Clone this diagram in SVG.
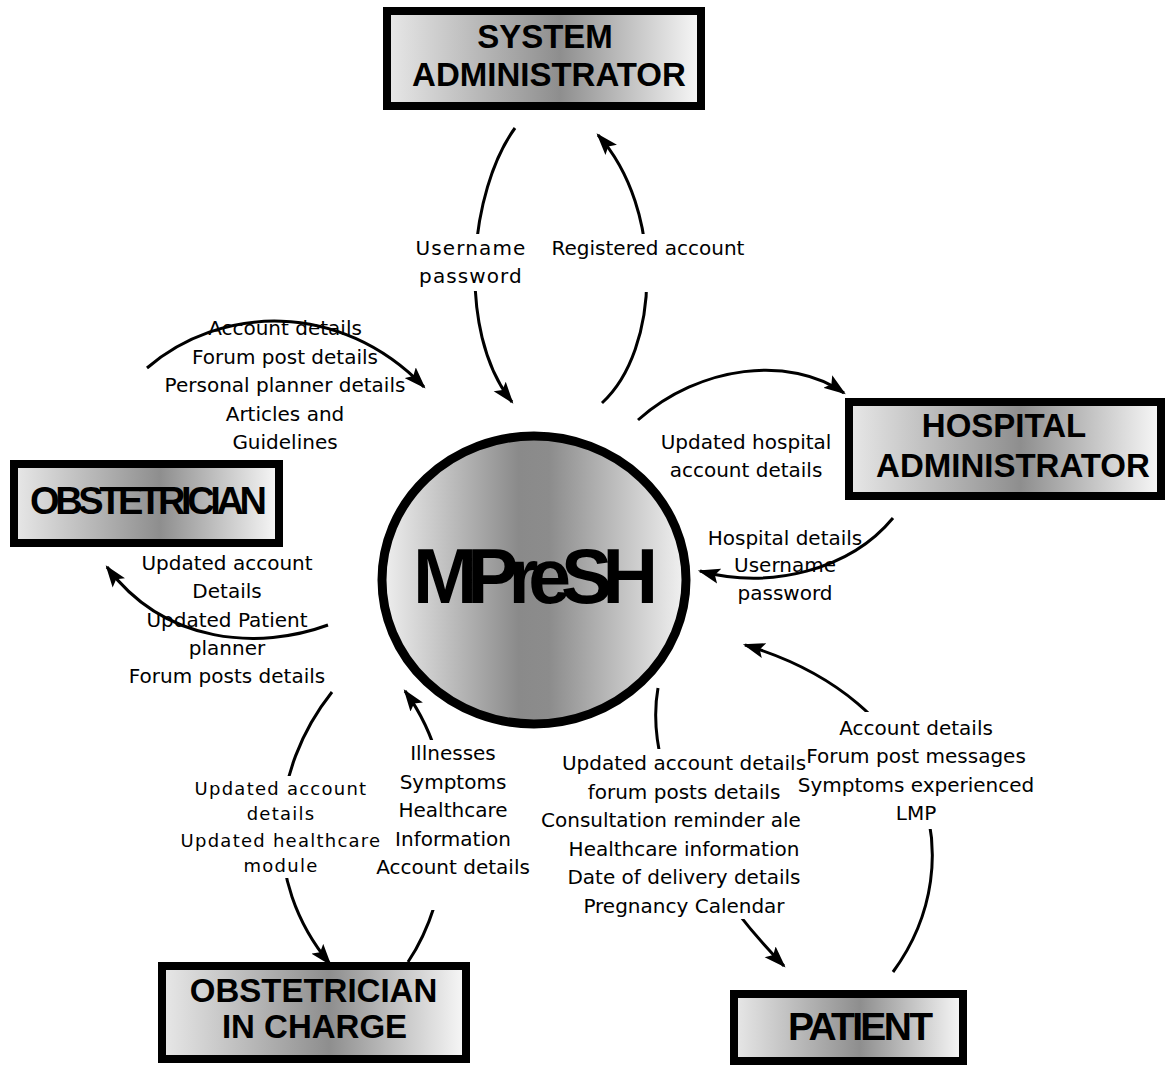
<svg xmlns="http://www.w3.org/2000/svg" width="1166" height="1066" viewBox="0 0 1166 1066">
<style>
.box{stroke:#000;stroke-width:8;fill:url(#boxGrad)}
.btxt{font-family:"Liberation Sans",Arial,sans-serif;font-weight:bold;fill:#000;text-anchor:middle}
.lbl{font-family:"DejaVu Sans",Verdana,sans-serif;font-size:20px;fill:#000;text-anchor:middle}
.wide{letter-spacing:1.1px}
.small{font-size:18px;letter-spacing:1.25px}
.conn{fill:none;stroke:#000;stroke-width:3}
.mask{fill:#fff;stroke:none}
</style>
<defs>
<linearGradient id="boxGrad" x1="0" y1="0" x2="1" y2="0">
<stop offset="0" stop-color="#e8e8e8"/>
<stop offset="0.55" stop-color="#8e8e8e"/>
<stop offset="1" stop-color="#f8f8f8"/>
</linearGradient>
<linearGradient id="circGrad" x1="0" y1="0" x2="1" y2="0">
<stop offset="0" stop-color="#f0f0f0"/>
<stop offset="0.45" stop-color="#8a8a8a"/>
<stop offset="0.55" stop-color="#8c8c8c"/>
<stop offset="1" stop-color="#f2f2f2"/>
</linearGradient>
<marker id="arr" viewBox="0 0 20 14" refX="18" refY="7" markerWidth="22" markerHeight="16" markerUnits="userSpaceOnUse" orient="auto">
<path d="M0,0 L20,7 L0,14 L4,7 z" fill="#000"/>
</marker>
</defs>
<rect width="1166" height="1066" fill="#fff"/>

<g id="connectors">
<path class="conn" marker-end="url(#arr)" d="M515,128 C470,190 455,330 512,402"/>
<path class="conn" marker-end="url(#arr)" d="M602,403 C660,350 665,210 598,135"/>
<path class="conn" marker-end="url(#arr)" d="M147,368 C220,305 340,300 424,387"/>
<path class="conn" marker-end="url(#arr)" d="M638,420 C700,365 790,355 844,393"/>
<path class="conn" marker-end="url(#arr)" d="M893,518 C850,570 770,590 700,571"/>
<path class="conn" marker-end="url(#arr)" d="M328,625 C260,650 165,645 107,567"/>
<path class="conn" marker-end="url(#arr)" d="M332,692 C270,770 260,880 330,964"/>
<path class="conn" marker-end="url(#arr)" d="M408,962 C450,900 470,780 405,691"/>
<path class="conn" marker-end="url(#arr)" d="M658,688 C645,760 690,870 784,966"/>
<path class="conn" marker-end="url(#arr)" d="M893,972 C975,860 930,700 745,645"/>
</g>

<g id="node-mpresh">
<ellipse cx="534" cy="580" rx="152" ry="144" fill="url(#circGrad)" stroke="#000" stroke-width="9"/>
<text class="btxt" x="535.5" y="603" font-size="77" textLength="245" lengthAdjust="spacing">MPreSH</text>
</g>
<g id="node-system-admin">
<rect class="box" x="387" y="11" width="314" height="95"/>
<text class="btxt" x="545" y="48" font-size="33">SYSTEM</text>
<text class="btxt" x="549" y="86" font-size="33">ADMINISTRATOR</text>
</g>
<g id="node-hospital-admin">
<rect class="box" x="849" y="402" width="312" height="94"/>
<text class="btxt" x="1004" y="437" font-size="33">HOSPITAL</text>
<text class="btxt" x="1013" y="477" font-size="33">ADMINISTRATOR</text>
</g>
<g id="node-obstetrician">
<rect class="box" x="14" y="464" width="265" height="79"/>
<text class="btxt" x="148.5" y="514" font-size="38" textLength="237" lengthAdjust="spacing">OBSTETRICIAN</text>
</g>
<g id="node-obstetrician-in-charge">
<rect class="box" x="162" y="966" width="304" height="93"/>
<text class="btxt" x="313.5" y="1002" font-size="33">OBSTETRICIAN</text>
<text class="btxt" x="314.5" y="1038" font-size="33">IN CHARGE</text>
</g>
<g id="node-patient">
<rect class="box" x="734" y="994" width="229" height="67"/>
<text class="btxt" x="860.5" y="1040" font-size="39" textLength="145" lengthAdjust="spacing">PATIENT</text>
</g>

<g id="labels">
<rect class="mask" x="440" y="234" width="60" height="57"/>
<text class="lbl wide" x="471" y="255">Username</text>
<text class="lbl wide" x="471" y="283">password</text>

<rect class="mask" x="628" y="234" width="40" height="58"/>
<text class="lbl" x="648" y="255">Registered account</text>

<text class="lbl" x="285" y="335">Account details</text>
<text class="lbl" x="285" y="364">Forum post details</text>
<text class="lbl" x="285" y="392">Personal planner details</text>
<text class="lbl" x="285" y="421">Articles and</text>
<text class="lbl" x="285" y="449">Guidelines</text>

<text class="lbl" x="746" y="449">Updated hospital</text>
<text class="lbl" x="746" y="477">account details</text>

<text class="lbl" x="785" y="545">Hospital details</text>
<text class="lbl" x="785" y="572">Username</text>
<text class="lbl" x="785" y="600">password</text>

<text class="lbl" x="227" y="570">Updated account</text>
<text class="lbl" x="227" y="598">Details</text>
<text class="lbl" x="227" y="627">Updated Patient</text>
<text class="lbl" x="227" y="655">planner</text>
<text class="lbl" x="227" y="683">Forum posts details</text>

<rect class="mask" x="250" y="776" width="60" height="102"/>
<text class="lbl small" x="281" y="795">Updated account</text>
<text class="lbl small" x="281" y="820">details</text>
<text class="lbl small" x="281" y="847">Updated healthcare</text>
<text class="lbl small" x="281" y="872">module</text>

<rect class="mask" x="425" y="740" width="65" height="170"/>
<text class="lbl" x="453" y="760">Illnesses</text>
<text class="lbl" x="453" y="788.5">Symptoms</text>
<text class="lbl" x="453" y="817">Healthcare</text>
<text class="lbl" x="453" y="845.5">Information</text>
<text class="lbl" x="453" y="874">Account details</text>

<rect class="mask" x="630" y="749" width="130" height="170"/>
<text class="lbl" x="684" y="770">Updated account details</text>
<text class="lbl" x="684" y="798.5">forum posts details</text>
<text class="lbl" x="541" y="827" style="text-anchor:start">Consultation reminder ale</text>
<text class="lbl" x="684" y="855.5">Healthcare information</text>
<text class="lbl" x="684" y="884">Date of delivery details</text>
<text class="lbl" x="684" y="912.5">Pregnancy Calendar</text>

<rect class="mask" x="807" y="712" width="230" height="117"/>
<text class="lbl" x="916" y="735">Account details</text>
<text class="lbl" x="916" y="763">Forum post messages</text>
<text class="lbl" x="916" y="792">Symptoms experienced</text>
<text class="lbl" x="916" y="820">LMP</text>
</g>
</svg>
